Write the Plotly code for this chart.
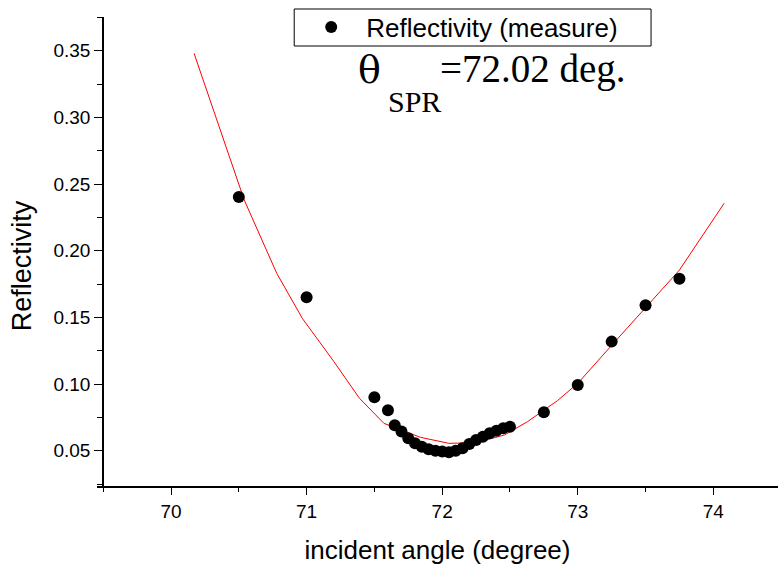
import plotly.graph_objects as go

# measured data
angle_meas = [70.5, 71.0, 71.5, 71.6, 71.65, 71.7, 71.75, 71.8, 71.85, 71.9, 71.95,
              72.0, 72.05, 72.1, 72.15, 72.2, 72.25, 72.3, 72.35, 72.4, 72.45, 72.5,
              72.75, 73.0, 73.25, 73.5, 73.75]
refl_meas = [0.2403, 0.1651, 0.0900, 0.0803, 0.0690, 0.0643, 0.0593, 0.0555, 0.0530,
             0.0510, 0.0500, 0.0493, 0.0488, 0.0500, 0.0518, 0.0550, 0.0580, 0.0605,
             0.0630, 0.0650, 0.0668, 0.0680, 0.0788, 0.0993, 0.1318, 0.1590, 0.1790]

# fitted curve
angle_fit = [70.17, 70.3, 70.44, 70.54, 70.78, 70.97, 71.2, 71.39, 71.57, 71.84, 72.05,
             72.25, 72.46, 72.63, 72.85, 73.0, 73.25, 73.5, 73.75, 74.08]
refl_fit = [0.348, 0.309, 0.268, 0.238, 0.183, 0.149, 0.117, 0.0893, 0.0705, 0.0600,
            0.0555, 0.0560, 0.0618, 0.0718, 0.0875, 0.1005, 0.129, 0.157, 0.1855, 0.2356]

x_range = [69.454, 74.477]
y_range = [0.0235, 0.3753]

W, H = 778, 566
ml, mr, mt, mb = 96.7, 0, 9, 80
PW, PH = W - ml - mr, H - mt - mb
axis_top_px = 17
yaxis_px = 102.7


def px(xp):
    return (xp - ml) / PW


def py(yp):
    return 1 - (yp - mt) / PH


SERIF = "Liberation Serif, Times New Roman, serif"

fig = go.Figure()
fig.add_trace(go.Scatter(x=angle_fit, y=refl_fit, mode="lines",
                         line=dict(color="red", width=1), showlegend=False,
                         hoverinfo="skip"))
fig.add_trace(go.Scatter(x=angle_meas, y=refl_meas, mode="markers",
                         name="Reflectivity (measure)",
                         marker=dict(color="black", size=12, line=dict(width=0))))

fig.update_layout(
    width=W, height=H,
    margin=dict(l=ml, r=mr, t=mt, b=mb, pad=0, autoexpand=False),
    paper_bgcolor="white", plot_bgcolor="white",
    font=dict(family="Liberation Sans, Arial, sans-serif", color="black"),
    xaxis=dict(range=x_range, showgrid=False, zeroline=False,
               showline=True, linecolor="black", linewidth=1.5,
               ticks="outside", ticklen=7, tickwidth=1.2, tickcolor="black",
               tick0=70, dtick=1, tickfont=dict(size=19),
               minor=dict(ticks="outside", ticklen=4, tickwidth=1.2,
                          tickcolor="black", dtick=0.5, tick0=70),
               title=dict(text="incident angle (degree)", font=dict(size=26),
                          standoff=20)),
    yaxis=dict(range=y_range, showgrid=False, zeroline=False,
               domain=[0, py(axis_top_px)],
               anchor="free", position=px(yaxis_px),
               showline=True, linecolor="black", linewidth=1.5,
               ticks="outside", ticklen=8, tickwidth=1.2, tickcolor="black",
               tick0=0.05, dtick=0.05, tickformat=".2f", tickfont=dict(size=19),
               minor=dict(ticks="outside", ticklen=5, tickwidth=1.2,
                          tickcolor="black", dtick=0.025, tick0=0.025)),
    legend=dict(x=px(296), y=py(3.5), xanchor="left", yanchor="top",
                orientation="h", entrywidth=320,
                bgcolor="rgba(0,0,0,0)", borderwidth=0,
                font=dict(size=26), itemwidth=60),
)

# y-axis title
fig.add_annotation(text="Reflectivity", xref="paper", yref="paper",
                   x=px(22), y=py(266), xanchor="center", yanchor="middle",
                   textangle=-90, showarrow=False, font=dict(size=27))

# legend frame
fig.add_shape(type="rect", xref="paper", yref="paper",
              x0=px(294), x1=px(651), y0=py(46), y1=py(9),
              line=dict(color="black", width=1), fillcolor="white", layer="above")

fig.add_annotation(text="θ", xref="paper", yref="paper",
                   x=px(356), y=py(94), xanchor="left", yanchor="bottom",
                   showarrow=False, font=dict(family="DejaVu Serif, serif", size=38))
fig.add_annotation(text="SPR", xref="paper", yref="paper",
                   x=px(386), y=py(120), xanchor="left", yanchor="bottom",
                   showarrow=False, font=dict(family=SERIF, size=30))
fig.add_annotation(text="=72.02 deg.", xref="paper", yref="paper",
                   x=px(438), y=py(93), xanchor="left", yanchor="bottom",
                   showarrow=False, font=dict(family=SERIF, size=39))

fig.write_html("out.html", config={"displayModeBar": False},
               post_script="document.body.style.margin='0px';")
